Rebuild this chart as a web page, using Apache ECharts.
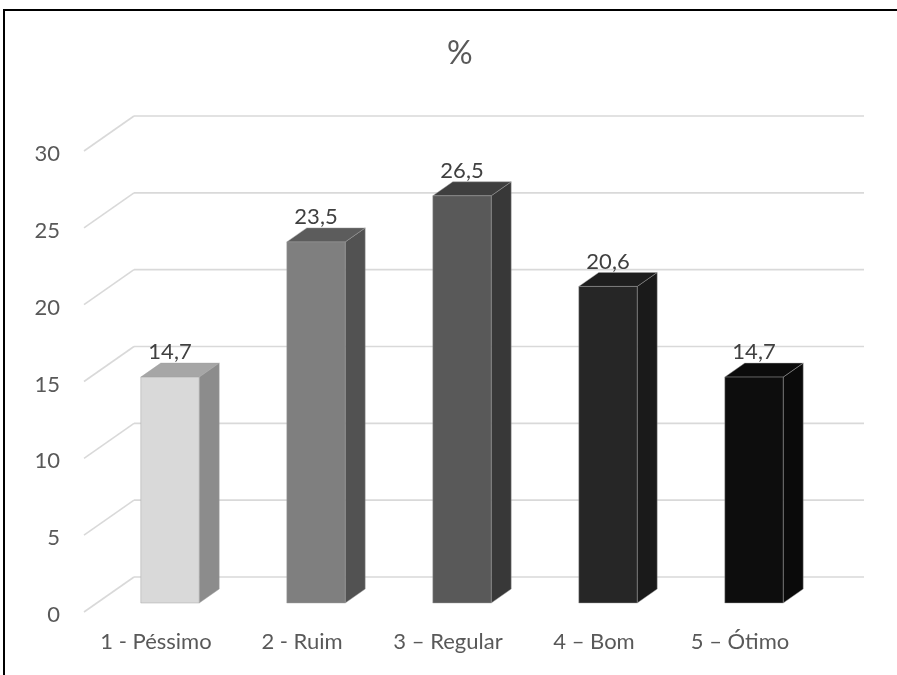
<!DOCTYPE html>
<html>
<head>
<meta charset="utf-8">
<script src="https://cdn.jsdelivr.net/npm/echarts@6/dist/echarts.min.js"></script>
<style>
  html, body { margin: 0; padding: 0; background: #fff; }
  #chart { width: 897px; height: 675px; }
</style>
</head>
<body>
<div id="chart"></div>
<script>
// Survey rating distribution (%)
const categories = ['1 - Péssimo', '2 - Ruim', '3 – Regular', '4 – Bom', '5 – Ótimo'];
const values = [14.7, 23.5, 26.5, 20.6, 14.7];
const yTicks = [0, 5, 10, 15, 20, 25, 30];

// Shades per bar: front face, right side, top
const frontColors = ['#d9d9d9', '#7f7f7f', '#595959', '#262626', '#0d0d0d'];
const sideColors  = ['#8c8c8c', '#525252', '#383838', '#1a1a1a', '#0a0a0a'];
const topColors   = ['#a6a6a6', '#5c5c5c', '#3f3f3f', '#1e1e1e', '#0b0b0b'];

// Pseudo-3D geometry (pixel offsets relative to the bar front plane)
const DEPTH = { dx: 20, dy: -14 };   // bar depth
const WALL  = { dx: 37, dy: -26 };   // back wall
const FLOOR = { dx: -13, dy: 9 };    // front edge of the floor
const BAR_RATIO = 0.4;
const FONT = 'Lato, "Open Sans", sans-serif';
const LABEL_SIZE = 22;

const fmt = v => v.toFixed(1).replace('.', ',');

const chart = echarts.init(document.getElementById('chart'), null, { renderer: 'canvas' });

// Gridline on the back wall, its diagonal toward the front edge, and the value label
function renderGrid(params, api) {
  const v = api.value(0);
  const p = api.coord([0, v]);
  const band = api.size([1, 0])[0];
  const left = p[0] - band / 2;
  const right = left + band * categories.length;
  const y = p[1];
  const style = { stroke: '#d9d9d9', lineWidth: 1.6, fill: null };
  return {
    type: 'group',
    children: [
      { type: 'line', shape: { x1: left + WALL.dx, y1: y + WALL.dy, x2: right + WALL.dx, y2: y + WALL.dy }, style },
      { type: 'line', shape: { x1: left + FLOOR.dx, y1: y + FLOOR.dy, x2: left + WALL.dx, y2: y + WALL.dy }, style },
      { type: 'text', x: left - 37, y: y + 12,
        style: { text: String(v), fill: '#595959', font: LABEL_SIZE + 'px ' + FONT, align: 'right', verticalAlign: 'middle' } }
    ]
  };
}

function renderBar(params, api) {
  const i = api.value(0);
  const v = api.value(1);
  const top = api.coord([i, v]);
  const base = api.coord([i, 0]);
  const band = api.size([1, 0])[0];
  const w = band * BAR_RATIO;
  const x0 = top[0] - w / 2, x1 = top[0] + w / 2;
  const yT = top[1], yB = base[1];
  const edge = { stroke: 'rgba(160,160,160,0.45)', lineWidth: 1 };
  return {
    type: 'group',
    children: [
      { type: 'polygon', shape: { points: [[x1, yT], [x1 + DEPTH.dx, yT + DEPTH.dy], [x1 + DEPTH.dx, yB + DEPTH.dy], [x1, yB]] },
        style: Object.assign({ fill: sideColors[i] }, edge) },
      { type: 'polygon', shape: { points: [[x0, yT], [x0 + DEPTH.dx, yT + DEPTH.dy], [x1 + DEPTH.dx, yT + DEPTH.dy], [x1, yT]] },
        style: Object.assign({ fill: topColors[i] }, edge) },
      { type: 'rect', shape: { x: x0, y: yT, width: w, height: yB - yT },
        style: Object.assign({ fill: frontColors[i] }, edge) },
      { type: 'text', x: top[0], y: yT + DEPTH.dy - 11,
        style: { text: fmt(v), fill: '#404040', font: LABEL_SIZE + 'px ' + FONT, align: 'center', verticalAlign: 'middle' } }
    ]
  };
}

chart.setOption({
  animation: false,
  backgroundColor: '#ffffff',
  title: {
    text: '%',
    left: 442,
    top: 33,
    textStyle: { color: '#595959', fontSize: 32, fontWeight: 'normal', fontFamily: FONT }
  },
  graphic: [{
    type: 'rect',
    shape: { x: 4, y: 10, width: 900, height: 700 },
    style: { fill: null, stroke: '#000', lineWidth: 2 },
    silent: true
  }],
  grid: { left: 97, top: 142, width: 730, height: 461, containLabel: false },
  xAxis: {
    type: 'category',
    data: categories,
    axisLine: { show: false },
    axisTick: { show: false },
    axisLabel: {
      color: '#595959', fontSize: LABEL_SIZE, fontFamily: FONT,
      margin: 28, padding: [0, 28, 0, 0], interval: 0
    },
    splitLine: { show: false }
  },
  yAxis: {
    type: 'value',
    min: 0, max: 30, interval: 5,
    axisLine: { show: false },
    axisTick: { show: false },
    splitLine: { show: false },
    axisLabel: { show: false }
  },
  series: [
    {
      type: 'custom',
      renderItem: renderGrid,
      data: yTicks.map(v => [v]),
      encode: { y: 0 },
      z: 1,
      silent: true
    },
    {
      type: 'custom',
      renderItem: renderBar,
      data: values.map((v, i) => [i, v]),
      encode: { x: 0, y: 1 },
      z: 2,
      silent: true
    }
  ]
});
</script>
</body>
</html>
